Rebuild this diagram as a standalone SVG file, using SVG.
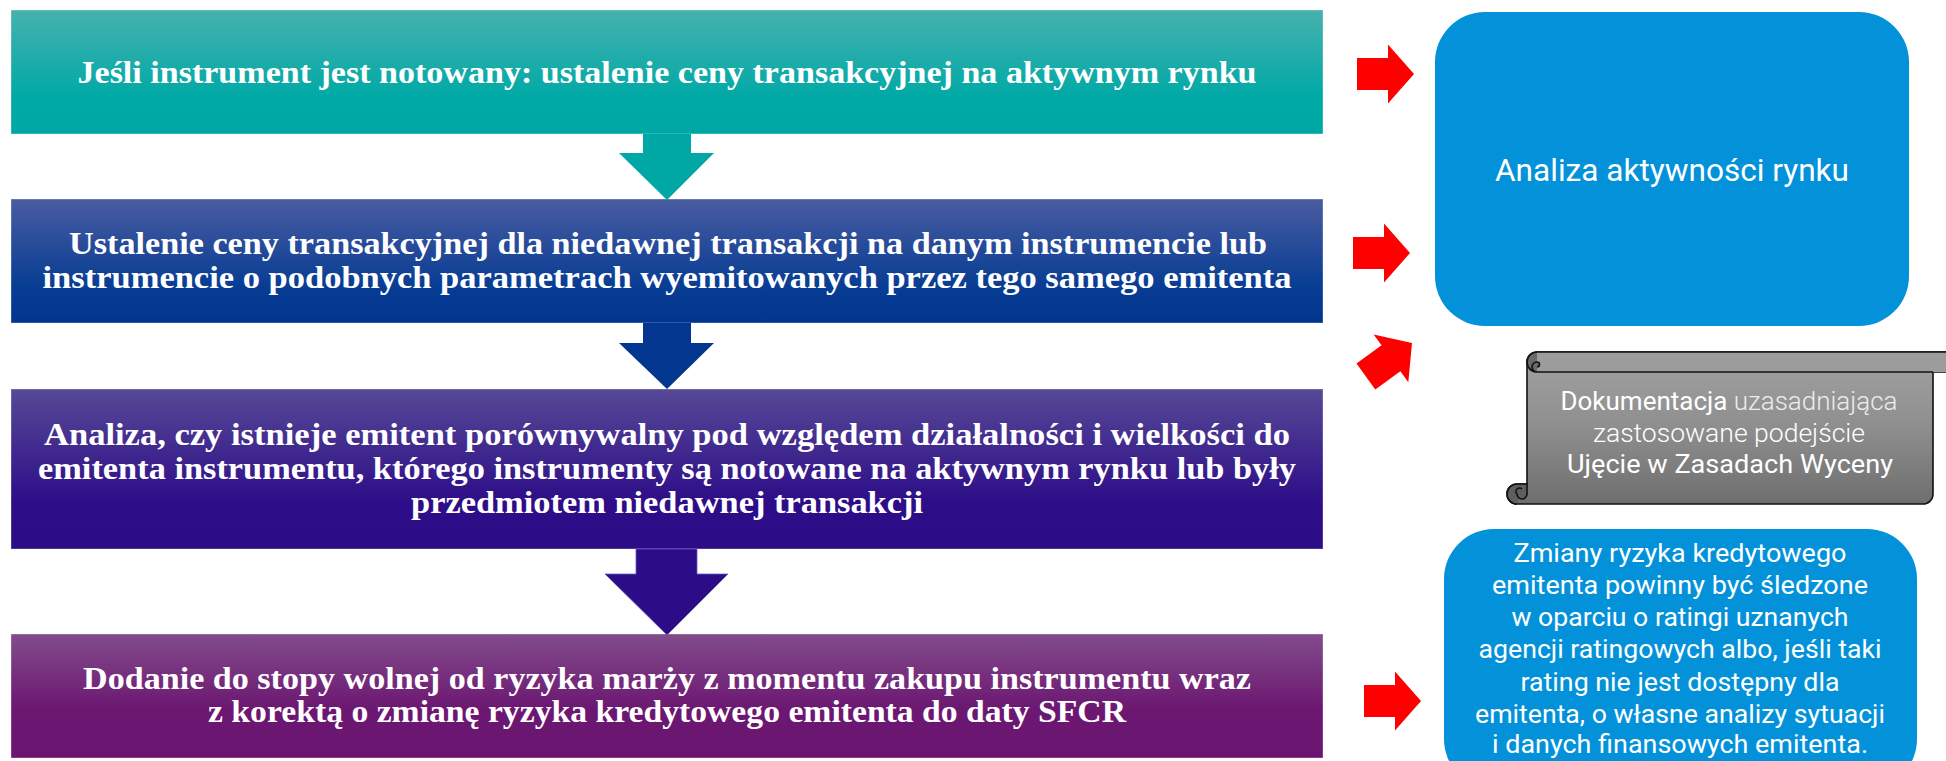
<svg xmlns="http://www.w3.org/2000/svg" width="1946" height="761" viewBox="0 0 1946 761">
  <style>
    .step { font-family: "Liberation Serif", "DejaVu Serif", serif; font-weight: bold; font-size: 32px; fill: #ffffff; text-anchor: middle; }
    .sans { font-family: Roboto, "Liberation Sans", "DejaVu Sans", sans-serif; fill: #ffffff; text-anchor: middle; }
    .box-edge { stroke: #ffffff; stroke-opacity: 0.35; stroke-width: 1; }
    .red { fill: #ff0000; }
  </style>
  <defs>
    <linearGradient id="g1" x1="0" y1="0" x2="0" y2="1">
      <stop offset="0" stop-color="#47b1af"/>
      <stop offset="0.7" stop-color="#00a9a6"/>
      <stop offset="1" stop-color="#00a8a5"/>
    </linearGradient>
    <linearGradient id="g2" x1="0" y1="0" x2="0" y2="1">
      <stop offset="0" stop-color="#4a5ca0"/>
      <stop offset="0.7" stop-color="#083d94"/>
      <stop offset="1" stop-color="#03358f"/>
    </linearGradient>
    <linearGradient id="g3" x1="0" y1="0" x2="0" y2="1">
      <stop offset="0" stop-color="#564996"/>
      <stop offset="0.7" stop-color="#2e0e88"/>
      <stop offset="1" stop-color="#2c0c87"/>
    </linearGradient>
    <linearGradient id="g4" x1="0" y1="0" x2="0" y2="1">
      <stop offset="0" stop-color="#824c8b"/>
      <stop offset="0.6" stop-color="#6c1872"/>
      <stop offset="1" stop-color="#6a1570"/>
    </linearGradient>
    <linearGradient id="gscroll" x1="0" y1="0" x2="0" y2="1">
      <stop offset="0" stop-color="#a2a2a2"/>
      <stop offset="0.5" stop-color="#8e8e8e"/>
      <stop offset="1" stop-color="#6e6e6e"/>
    </linearGradient>
    <path id="redArrow" d="M-57,-16 H-26 V-29.5 L0,0 L-26,29.5 V16 H-57 Z"/>
  </defs>

  <g id="step1">
    <rect x="11" y="10" width="1312" height="124" fill="url(#g1)" class="box-edge"/>
    <text class="step" x="667" y="83" textLength="1179" lengthAdjust="spacingAndGlyphs">Jeśli instrument jest notowany: ustalenie ceny transakcyjnej na aktywnym rynku</text>
  </g>

  <g id="step2">
    <rect x="11" y="199" width="1312" height="124" fill="url(#g2)" class="box-edge"/>
    <text class="step" x="668" y="254" textLength="1198" lengthAdjust="spacingAndGlyphs">Ustalenie ceny transakcyjnej dla niedawnej transakcji na danym instrumencie lub</text>
    <text class="step" x="667" y="288" textLength="1249" lengthAdjust="spacingAndGlyphs">instrumencie o podobnych parametrach wyemitowanych przez tego samego emitenta</text>
  </g>

  <g id="step3">
    <rect x="11" y="389" width="1312" height="160" fill="url(#g3)" class="box-edge"/>
    <text class="step" x="667" y="445" textLength="1246" lengthAdjust="spacingAndGlyphs">Analiza, czy istnieje emitent porównywalny pod względem działalności i wielkości do</text>
    <text class="step" x="667" y="479" textLength="1258" lengthAdjust="spacingAndGlyphs">emitenta instrumentu, którego instrumenty są notowane na aktywnym rynku lub były</text>
    <text class="step" x="667" y="513" textLength="512" lengthAdjust="spacingAndGlyphs">przedmiotem niedawnej transakcji</text>
  </g>

  <g id="step4">
    <rect x="11" y="634" width="1312" height="124" fill="url(#g4)" class="box-edge"/>
    <text class="step" x="667" y="689" textLength="1168" lengthAdjust="spacingAndGlyphs">Dodanie do stopy wolnej od ryzyka marży z momentu zakupu instrumentu wraz</text>
    <text class="step" x="667" y="722" textLength="918" lengthAdjust="spacingAndGlyphs">z korektą o zmianę ryzyka kredytowego emitenta do daty SFCR</text>
  </g>

  <g id="market-analysis">
    <rect x="1435" y="12" width="474" height="314" rx="50" ry="50" fill="#0392da"/>
    <text class="sans" x="1672" y="181" font-size="32" textLength="354" lengthAdjust="spacingAndGlyphs">Analiza aktywności rynku</text>
  </g>

  <g id="documentation">
    <path d="M1527,362 A10,10 0 0 1 1537,352 L1960,352 L1960,372 L1933,372 L1933,494 A10,10 0 0 1 1923,504 L1517,504 A10,10 0 0 1 1517,484 L1527,484 Z" fill="url(#gscroll)" stroke="#111" stroke-width="1.6" stroke-linejoin="round"/>
    <path d="M1537,352 L1960,352 L1960,372 L1537,372 Z" fill="#9c9c9c" stroke="none"/>
    <path d="M1537,352 L1960,352 M1537,372 L1933,372" stroke="#111" stroke-width="1.6" fill="none"/>
    <path d="M1537,372 A10,10 0 0 1 1527,362 A10,10 0 0 1 1537,352 M1537,372 A5,5 0 0 1 1537,362 A2.5,2.5 0 0 1 1537,367" fill="#6a6a6a" stroke="#111" stroke-width="1.6"/>
    <path d="M1517,504 A10,10 0 0 1 1517,484 L1527,484 L1527,494 A5,5 0 0 1 1517,494 A2.5,2.5 0 0 1 1522,489" fill="#5e5e5e" stroke="#111" stroke-width="1.6"/>
    <text class="sans" x="1729" y="410" font-size="25" textLength="337" lengthAdjust="spacingAndGlyphs"><tspan>Dokumentacja</tspan> <tspan fill="#ececec" font-weight="300">uzasadniająca</tspan></text>
    <text class="sans" x="1729" y="442" font-size="25" font-weight="300" fill="#ececec" textLength="272" lengthAdjust="spacingAndGlyphs">zastosowane podejście</text>
    <text class="sans" x="1730" y="473" font-size="25" textLength="326" lengthAdjust="spacingAndGlyphs">Ujęcie w Zasadach Wyceny</text>
  </g>

  <g id="credit-risk">
    <rect x="1444" y="529" width="473" height="260" rx="50" ry="50" fill="#0392da"/>
    <text class="sans" font-size="25" x="1680" y="562" textLength="333" lengthAdjust="spacingAndGlyphs">Zmiany ryzyka kredytowego</text>
    <text class="sans" font-size="25" x="1680" y="594" textLength="376" lengthAdjust="spacingAndGlyphs">emitenta powinny być śledzone</text>
    <text class="sans" font-size="25" x="1680" y="626" textLength="337" lengthAdjust="spacingAndGlyphs">w oparciu o ratingi uznanych</text>
    <text class="sans" font-size="25" x="1680" y="658" textLength="403" lengthAdjust="spacingAndGlyphs">agencji ratingowych albo, jeśli taki</text>
    <text class="sans" font-size="25" x="1680" y="691" textLength="319" lengthAdjust="spacingAndGlyphs">rating nie jest dostępny dla</text>
    <text class="sans" font-size="25" x="1680" y="723" textLength="410" lengthAdjust="spacingAndGlyphs">emitenta, o własne analizy sytuacji</text>
    <text class="sans" font-size="25" x="1680" y="753" textLength="376" lengthAdjust="spacingAndGlyphs">i danych finansowych emitenta.</text>
  </g>

  <g id="connectors">
    <path d="M643,134 H691 V153 H714 L667,200 L619,153 H643 Z" fill="#00a8a5"/>
    <path d="M643,323 H691 V343 H714 L667,389 L619,343 H643 Z" fill="#03368f"/>
    <path d="M636,549 H697 V574 H728 L667,635 L605,574 H636 Z" fill="#2c0d87" stroke="#6a5cc0" stroke-width="0.8"/>
    <use href="#redArrow" class="red" transform="translate(1414,74)"/>
    <use href="#redArrow" class="red" transform="translate(1410,253)"/>
    <use href="#redArrow" class="red" transform="translate(1412,343) rotate(-36)"/>
    <use href="#redArrow" class="red" transform="translate(1421,701)"/>
  </g>
</svg>
